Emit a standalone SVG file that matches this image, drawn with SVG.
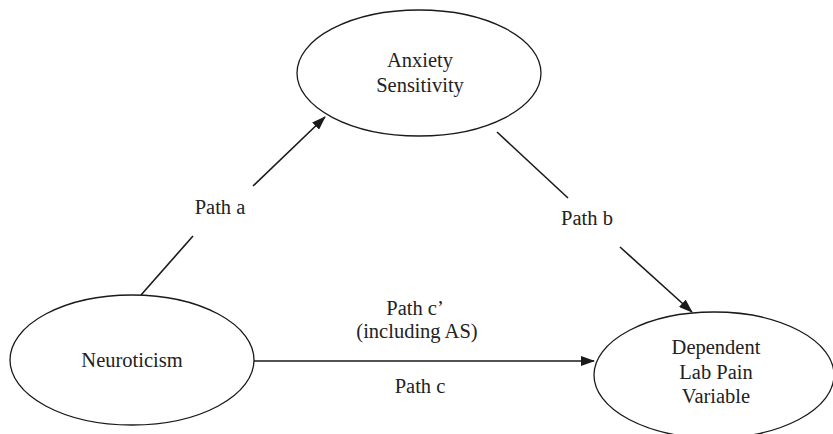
<svg xmlns="http://www.w3.org/2000/svg" width="833" height="434" viewBox="0 0 833 434">
<style>
.node{fill:#fff;stroke:#1a1a1a;stroke-width:1.3}
.t{font-family:"Liberation Serif","Times New Roman",serif;font-size:20.5px;fill:#222;text-anchor:middle}
.c{stroke:#1a1a1a;stroke-width:1.6;fill:none}
</style>
<defs>
<marker id="ah" markerWidth="14" markerHeight="10" refX="13" refY="5" orient="auto" markerUnits="userSpaceOnUse">
<path d="M0,0 L14,5 L0,10 Z" fill="#1a1a1a"/>
</marker>
</defs>
<rect width="833" height="434" fill="#fff"/>
<g id="anxiety">
<ellipse class="node" cx="419" cy="73" rx="122" ry="63"/>
<text class="t" x="420" y="67">Anxiety</text>
<text class="t" x="420" y="92">Sensitivity</text>
</g>
<g id="neuroticism">
<ellipse class="node" cx="132" cy="360" rx="122" ry="65"/>
<text class="t" x="132" y="367">Neuroticism</text>
</g>
<g id="dependent">
<ellipse class="node" cx="714" cy="375" rx="120" ry="63"/>
<text class="t" x="716" y="354">Dependent</text>
<text class="t" x="716" y="379">Lab Pain</text>
<text class="t" x="716" y="403">Variable</text>
</g>
<g id="connectors">
<line class="c" x1="141" y1="295" x2="193" y2="236"/>
<line class="c" x1="253" y1="186" x2="325" y2="117" marker-end="url(#ah)"/>
<line class="c" x1="497" y1="132" x2="568" y2="198"/>
<line class="c" x1="620" y1="247" x2="692" y2="312" marker-end="url(#ah)"/>
<line class="c" x1="254" y1="361" x2="594" y2="361" marker-end="url(#ah)"/>
<text class="t" x="220" y="214">Path a</text>
<text class="t" x="587" y="225">Path b</text>
<text class="t" x="415" y="315">Path c’</text>
<text class="t" x="417" y="338">(including AS)</text>
<text class="t" x="420" y="393">Path c</text>
</g>
</svg>
